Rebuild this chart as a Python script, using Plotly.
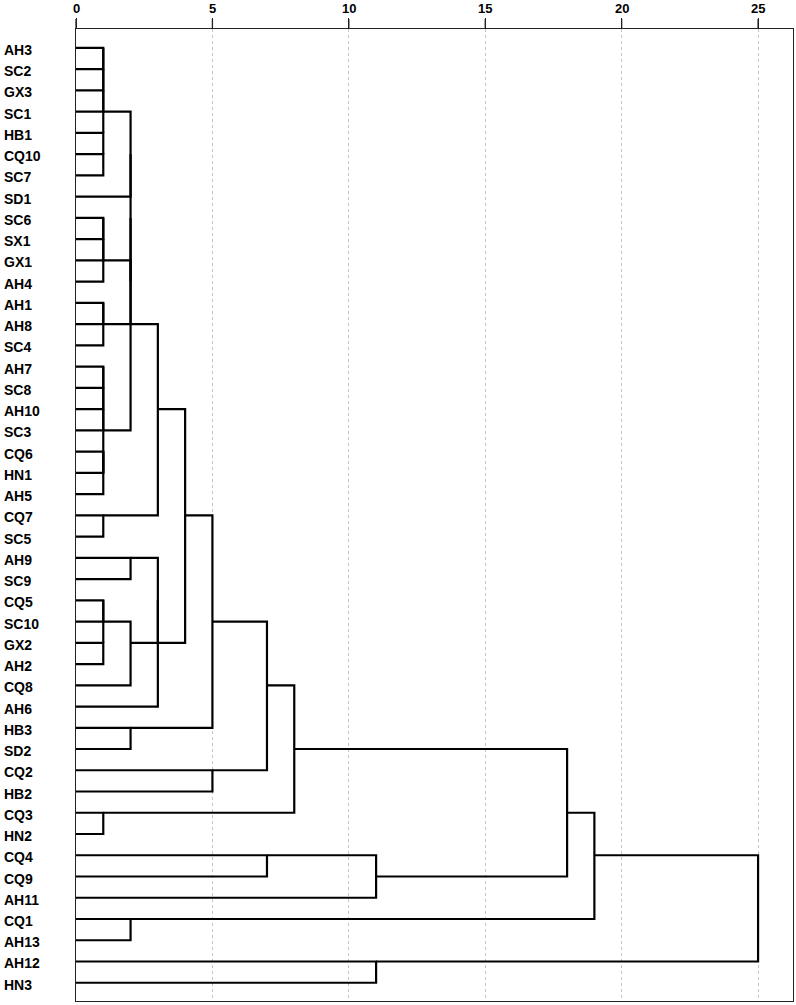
import plotly.graph_objects as go

# leaf order as in the dendrogram (top to bottom)
leaves = ['AH3', 'SC2', 'GX3', 'SC1', 'HB1', 'CQ10', 'SC7', 'SD1', 'SC6', 'SX1',
          'GX1', 'AH4', 'AH1', 'AH8', 'SC4', 'AH7', 'SC8', 'AH10', 'SC3', 'CQ6',
          'HN1', 'AH5', 'CQ7', 'SC5', 'AH9', 'SC9', 'CQ5', 'SC10', 'GX2', 'AH2',
          'CQ8', 'AH6', 'HB3', 'SD2', 'CQ2', 'HB2', 'CQ3', 'HN2', 'CQ4', 'CQ9',
          'AH11', 'CQ1', 'AH13', 'AH12', 'HN3']

# agglomeration schedule, "m<k>" = cluster made at step k
merge_left = ['AH3', 'm0', 'm1', 'CQ10', 'HB1', 'm2',
              'SC6', 'm6', 'm7',
              'AH1', 'm9',
              'AH7', 'm11', 'm12', 'CQ6', 'm14', 'm13',
              'm5', 'm8', 'm17', 'm19',
              'CQ7', 'm20',
              'AH9', 'CQ5', 'GX2', 'm24', 'm26', 'm23', 'm28',
              'm22', 'HB3', 'm30', 'CQ2', 'm32', 'CQ3', 'm34',
              'CQ4', 'm37', 'm36', 'CQ1', 'm39', 'AH12', 'm41']
merge_right = ['SC2', 'GX3', 'SC1', 'SC7', 'm3', 'm4',
               'SX1', 'GX1', 'AH4',
               'AH8', 'SC4',
               'SC8', 'AH10', 'SC3', 'HN1', 'AH5', 'm15',
               'SD1', 'm10', 'm18', 'm16',
               'SC5', 'm21',
               'SC9', 'SC10', 'AH2', 'm25', 'CQ8', 'm27', 'AH6',
               'm29', 'SD2', 'm31', 'HB2', 'm33', 'HN2', 'm35',
               'CQ9', 'AH11', 'm38', 'AH13', 'm40', 'HN3', 'm42']
# rescaled distance cluster combine
merge_dist = [1, 1, 1, 1, 1, 1,
              1, 1, 1,
              1, 1,
              1, 1, 1, 1, 1, 1,
              2, 2, 2, 2,
              1, 3,
              2, 1, 1, 1, 2, 3, 3,
              4, 2, 5, 5, 7, 1, 8,
              7, 11, 18, 2, 19, 11, 25]

x_ticks = [0, 5, 10, 15, 20, 25]
x_max = 26.28

row = {name: i for i, name in enumerate(leaves)}
height = {name: 0 for name in leaves}

xs, ys = [], []
for k, (a, b, d) in enumerate(zip(merge_left, merge_right, merge_dist)):
    ra, rb = row[a], row[b]
    xs += [height[a], d, d, height[b], None]
    ys += [ra, ra, rb, rb, None]
    row['m%d' % k] = (ra + rb) // 2
    height['m%d' % k] = d

fig = go.Figure()
fig.add_trace(go.Scatter(
    x=xs, y=ys, mode='lines',
    line=dict(color='black', width=2.2),
    hoverinfo='skip', showlegend=False,
))

label_font = dict(family='Arial, Liberation Sans', size=14, color='black',
                  weight='bold')

# left aligned leaf labels
for i, name in enumerate(leaves):
    fig.add_annotation(
        x=-0.1032, xref='paper', y=i, yref='y',
        text=name, showarrow=False, xanchor='left', yshift=-2,
        font=label_font,
    )

# distance labels and tick marks above the top axis
for t in x_ticks:
    fig.add_annotation(
        x=t, xref='x', y=1, yref='paper',
        text=str(t), showarrow=False, yanchor='middle', yshift=21,
        font=dict(family='Arial, Liberation Sans', size=13, color='black',
                  weight='bold'),
    )
    # paper refs so the mark is not clipped to the plot area
    fig.add_shape(
        type='line', xref='paper', yref='paper',
        x0=t / x_max, x1=t / x_max, y0=1, y1=1.0103,
        line=dict(color='#222', width=1.3),
    )

fig.update_layout(
    width=796, height=1005,
    margin=dict(l=76, r=3, t=29, b=4),
    plot_bgcolor='white', paper_bgcolor='white',
    showlegend=False,
    xaxis=dict(
        side='top', range=[0, x_max], automargin=False,
        tickvals=x_ticks, ticks='outside', ticklen=10,
        tickwidth=1.3, tickcolor='#222', showticklabels=False,
        showline=True, linecolor='#222', linewidth=1.3, mirror=True,
        showgrid=True, gridcolor='#c4c4c4', gridwidth=1, griddash='3px,3px',
        zeroline=False,
    ),
    yaxis=dict(
        range=[44.86, -0.89], automargin=False,
        showticklabels=False, ticks='',
        showline=True, linecolor='#222', linewidth=1.3, mirror=True,
        showgrid=False, zeroline=False,
    ),
)

fig.write_html("out.html", config={'displayModeBar': False},
               post_script="document.body.style.margin='0';")
